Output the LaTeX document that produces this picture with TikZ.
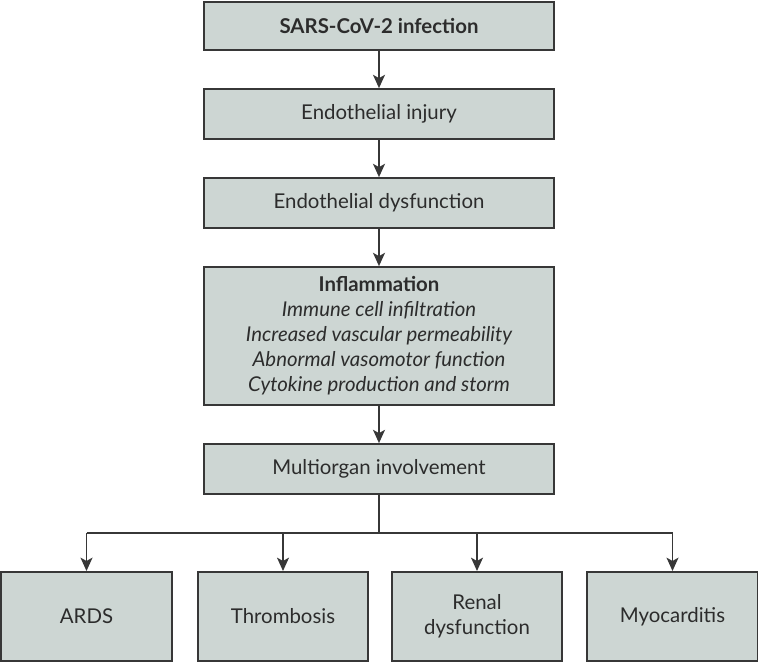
\documentclass[tikz,border=0pt]{standalone}
\usepackage{fontspec}
\setmainfont{Lato}
\usepackage{tikz}
\usetikzlibrary{arrows.meta}
\definecolor{boxfill}{RGB}{205,214,211}
\definecolor{boxline}{RGB}{55,55,55}
\tikzset{
  stage/.style={draw=boxline, fill=boxfill, line width=1.3pt, text=boxline!80!black,
    minimum width=262pt, minimum height=37.5pt, inner sep=0pt, align=center,
    font=\fontsize{15.3}{18.75}\selectfont},
  organ/.style={stage, minimum width=128pt, minimum height=67pt},
  flow/.style={draw=boxline, line width=1.1pt, -{Stealth[length=10pt,width=9pt,inset=2.5pt]}},
}

\begin{document}
\begin{tikzpicture}[x=0.75pt,y=-0.75pt]
\useasboundingbox (0,0) rectangle (758,662);
% main column
\node[stage, minimum height=36pt] (infection) at (379,26) {\bfseries SARS-CoV-2 infection};
\node[stage] (injury) at (379,114) {Endothelial injury};
\node[stage] (dysfunction) at (379,203) {Endothelial dysfunction};
\node[stage, minimum height=103.5pt] (inflam) at (379,336) {{\bfseries Inflammation}\\
  \itshape Immune cell infiltration\\
  \itshape Increased vascular permeability\\
  \itshape Abnormal vasomotor function\\
  \itshape Cytokine production and storm};
\node[stage] (multi) at (379,469) {Multiorgan involvement};
% organs
\node[organ] (ards) at (86.5,616.5) {ARDS};
\node[organ] (thromb) at (283,616.5) {Thrombosis};
\node[organ] (renal) at (477,616.5) {Renal\\dysfunction};
\node[organ] (myo) at (672.5,616.5) {Myocarditis};
\coordinate (split) at (379,533);
% arrows
\draw[flow] (infection) -- (injury);
\draw[flow] (injury) -- (dysfunction);
\draw[flow] (dysfunction) -- (inflam);
\draw[flow] (inflam) -- (multi);
\draw[draw=boxline, line width=1.1pt] (multi) -- (split);
\draw[draw=boxline, line width=1.1pt] (ards.north |- split) -- (myo.north |- split);
\foreach \o in {ards,thromb,renal,myo}
  \draw[flow] (\o.north |- split) -- (\o.north);
\end{tikzpicture}
\end{document}
